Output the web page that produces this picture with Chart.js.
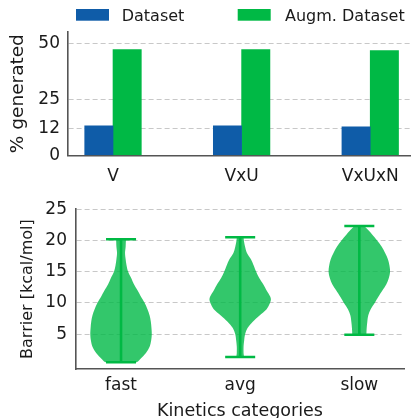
<!DOCTYPE html>
<html><head><meta charset="utf-8">
<script src="https://cdn.jsdelivr.net/npm/chart.js@4.4.1/dist/chart.umd.min.js"></script>
<style>
html,body{margin:0;padding:0;background:#fff;overflow:hidden;width:411px;height:418px}
canvas{position:absolute;left:0}
#c1{top:0}
#c2{top:190px}
</style></head><body>
<canvas id="c1" width="411" height="190"></canvas>
<canvas id="c2" width="411" height="228"></canvas>
<script>
// ---- top panel data ----
const genCategories = ['V', 'VxU', 'VxUxN'];
const seriesNames = ['Dataset', 'Augm. Dataset'];
const datasetPct = [13.1, 13.1, 12.7];
const augmPct = [47.2, 47.2, 46.7];
const genTicks = [0, 12, 25, 50];

// ---- bottom panel data ----
const kineticsCategories = ['fast', 'avg', 'slow'];
const barrierTicks = [5, 10, 15, 20, 25];
const barrierMin = [0.5, 1.35, 4.9];
const barrierMax = [20.2, 20.5, 22.3];
// violin profiles: barrier level and relative density (1 = widest)
const fastLevels  = [20.2, 19, 18, 17, 16, 15, 14, 13, 12, 11, 10, 9, 8, 7, 6, 5, 4, 3, 2, 1, 0.5];
const fastDensity = [0.16, 0.15, 0.13, 0.15, 0.18, 0.23, 0.33, 0.42, 0.54, 0.65, 0.77, 0.86, 0.93, 0.97, 0.99, 1.0, 0.98, 0.93, 0.81, 0.62, 0.49];
const avgLevels   = [20.5, 20, 19, 18, 17, 16, 15, 14, 13, 12, 11, 10.5, 10, 9, 8, 7, 6, 5, 4, 3, 2, 1.35];
const avgDensity  = [0.11, 0.12, 0.16, 0.22, 0.35, 0.44, 0.52, 0.62, 0.75, 0.86, 0.98, 1.0, 0.97, 0.86, 0.63, 0.41, 0.24, 0.16, 0.13, 0.11, 0.11, 0.11];
const slowLevels  = [22.3, 21.5, 21, 20, 19, 18, 17, 16, 15, 14, 13, 12, 11, 10, 9, 8, 7, 6, 5, 4.9];
const slowDensity = [0.16, 0.32, 0.41, 0.58, 0.73, 0.84, 0.93, 0.98, 1.0, 0.96, 0.88, 0.75, 0.62, 0.5, 0.37, 0.29, 0.26, 0.24, 0.23, 0.23];

const FONT = 'DejaVu Sans';
const TXT = '#1a1a1a';
const AXIS = '#555555';
const GRID = '#c8c8c8';
const BLUE = '#0f5ca8';
const GREEN = '#00b945';
const VBODY = 'rgba(0,185,70,0.80)';
const VLINE = '#00b944';

Chart.defaults.font.family = FONT;
Chart.defaults.color = TXT;

// custom legend for top panel
const legendPlugin = {
  id: 'topLegend',
  afterDraw(chart) {
    const ctx = chart.ctx;
    const items = [
      {box: 76, text: 121.7},
      {box: 237.7, text: 285}
    ];
    ctx.save();
    ctx.font = '16px "' + FONT + '"';
    ctx.textBaseline = 'alphabetic';
    ctx.textAlign = 'left';
    chart.data.datasets.forEach((ds, i) => {
      ctx.fillStyle = ds.backgroundColor;
      ctx.fillRect(items[i].box, 9, 33, 11.7);
      ctx.fillStyle = TXT;
      ctx.fillText(ds.label, items[i].text, 20.7);
    });
    ctx.restore();
  }
};

new Chart(document.getElementById('c1'), {
  type: 'bar',
  data: {
    datasets: [
      {label: seriesNames[0], data: datasetPct.map((v, i) => ({x: i, y: v})), backgroundColor: BLUE, barThickness: 28.3, borderWidth: 0},
      {label: seriesNames[1], data: augmPct.map((v, i) => ({x: i, y: v})), backgroundColor: GREEN, barThickness: 28.3, borderWidth: 0}
    ]
  },
  options: {
    responsive: false, animation: false, devicePixelRatio: 1,
    layout: {padding: {top: 32, left: 0, right: 0, bottom: 0}},
    plugins: {legend: {display: false}, tooltip: {enabled: false}},
    scales: {
      x: {
        type: 'linear', min: -0.35, max: 2.317, offset: false,
        afterBuildTicks: s => { s.ticks = genCategories.map((c, i) => ({value: i})); },
        afterFit: s => { s.height = 190 - 155.3; },
        ticks: {callback: v => genCategories[v], font: {size: 17}, color: TXT, padding: 11, maxRotation: 0, autoSkip: false},
        grid: {display: false, drawTicks: false, offset: false},
        border: {display: true, color: AXIS, width: 1.6}
      },
      y: {
        min: 0, max: 55,
        afterBuildTicks: s => { s.ticks = genTicks.map(v => ({value: v})); },
        afterFit: s => { s.width = 68; },
        ticks: {font: {size: 17}, color: TXT, padding: 8},
        grid: {color: GRID, lineWidth: 1, drawTicks: false},
        border: {display: true, color: AXIS, width: 1.6, dash: [5, 3]},
        title: {display: true, text: '% generated', font: {size: 18.5, lineHeight: 1}, color: TXT, padding: {top: 8.75, bottom: 0}}
      }
    }
  },
  plugins: [legendPlugin]
});

// ---- violins ----
const VHALF = 0.258;  // half-width of widest violin, in category units
const CAP = 0.126;
const profiles = [[fastLevels, fastDensity], [avgLevels, avgDensity], [slowLevels, slowDensity]];
const violinSets = [];
profiles.forEach(([lv, dn], idx) => {
  const right = lv.map((y, i) => ({x: idx + dn[i] * VHALF, y}));
  const left = lv.map((y, i) => ({x: idx - dn[i] * VHALF, y})).reverse();
  violinSets.push({
    data: right.concat(left), showLine: true, fill: 'shape', backgroundColor: VBODY,
    borderColor: 'rgba(0,0,0,0)', borderWidth: 0, pointRadius: 0, tension: 0.3, order: 2
  });
});
const lineSets = [];
kineticsCategories.forEach((c, idx) => {
  const st = {showLine: true, borderColor: VLINE, borderWidth: 2.6, pointRadius: 0, fill: false, order: 1};
  lineSets.push(Object.assign({data: [{x: idx, y: barrierMin[idx]}, {x: idx, y: barrierMax[idx]}]}, st));
  lineSets.push(Object.assign({data: [{x: idx - CAP, y: barrierMax[idx]}, {x: idx + CAP, y: barrierMax[idx]}]}, st));
  lineSets.push(Object.assign({data: [{x: idx - CAP, y: barrierMin[idx]}, {x: idx + CAP, y: barrierMin[idx]}]}, st));
});

new Chart(document.getElementById('c2'), {
  type: 'scatter',
  data: {datasets: violinSets.concat(lineSets)},
  options: {
    responsive: false, animation: false, devicePixelRatio: 1,
    layout: {padding: {top: 15.7, left: 0, right: 7, bottom: 0}},
    plugins: {legend: {display: false}, tooltip: {enabled: false}},
    scales: {
      x: {
        type: 'linear', min: -0.378, max: 2.375,
        afterBuildTicks: s => { s.ticks = kineticsCategories.map((c, i) => ({value: i})); },
        afterFit: s => { s.height = 49; },
        ticks: {callback: v => kineticsCategories[v], font: {size: 17}, color: TXT, padding: 6.5, maxRotation: 0, autoSkip: false},
        grid: {display: false, drawTicks: false},
        border: {display: true, color: AXIS, width: 1.6},
        title: {display: true, text: 'Kinetics categories', font: {size: 17.5, lineHeight: 0.72}, color: TXT, padding: {top: 0, bottom: 0}}
      },
      y: {
        min: -0.58, max: 25,
        afterBuildTicks: s => { s.ticks = barrierTicks.map(v => ({value: v})); },
        afterFit: s => { s.width = 76; },
        ticks: {font: {size: 17}, color: TXT, padding: 9},
        grid: {color: GRID, lineWidth: 1, drawTicks: false},
        border: {display: true, color: AXIS, width: 1.6, dash: [5, 3]},
        title: {display: true, text: 'Barrier [kcal/mol]', font: {size: 16, lineHeight: 1}, color: TXT, padding: {top: 19.5, bottom: 0}}
      }
    }
  }
});
</script>
</body></html>
